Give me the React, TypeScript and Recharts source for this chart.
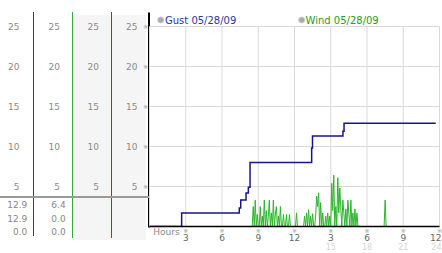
import { LineChart, Line, XAxis, YAxis, CartesianGrid } from 'recharts'

// gust: step series (hour of day -> mph)
const gustHours = [0, 2.66, 7.43, 7.55, 7.99, 8.18, 8.32, 13.42, 13.49, 16.01, 16.1, 23.69]
const gustSpeed = [0, 1.7, 2.3, 3.3, 4.2, 4.9, 8.0, 9.8, 11.3, 11.9, 12.9, 12.9]

// wind: 5 minute samples starting 08:20
const windStartHour = 8 + 20 / 60
const windEndHour = 23.69
const windSpeed = [
  0, 0, 0, 2.5, 0, 3.3, 0, 1.5, 0, 0,
  2.5, 0, 1.3, 0, 3.3, 0, 2.0, 0, 1.3, 3.3,
  0, 1.7, 0, 3.3, 0, 1.5, 2.5, 0, 1.3, 0,
  2.5, 0, 0, 1.5, 0, 0, 1.5, 0, 0, 1.5,
  0, 0, 0, 0, 0, 0, 1.7, 0, 0, 0,
  0, 0, 0, 0, 1.3, 0, 1.7, 0, 2.1, 0,
  1.3, 0, 1.6, 0, 0, 1.3, 3.8, 2.5, 4.2, 0,
  3.0, 0, 1.7, 0, 0, 1.3, 0, 1.7, 0, 1.3,
  0, 5.4, 2.0, 6.4, 0, 2.5, 0, 6.1, 1.7, 4.8,
  2.2, 0, 3.3, 1.7, 0, 2.2, 0, 3.3, 1.5, 0,
  3.3, 0, 1.7, 0, 2.2, 0, 1.7, 0, 0, 0,
  0, 0, 0, 0, 0, 0, 0, 0, 0, 0,
  0, 0, 0, 0, 0, 0, 0, 0, 0, 0,
  0, 0, 0, 0, 3.3, 0, 0, 0,
]

const yTicks = [0, 5, 10, 15, 20, 25]
const xTicks = [3, 6, 9, 12, 15, 18, 21, 24]
const xTickLabels = ['3', '6', '9', '12', '3', '6', '9', '12']
const xSubLabels = ['', '', '', '', '15', '18', '21', '24']

const gustStats = ['12.9', '12.9', '0.0']
const windStats = ['6.4', '0.0', '0.0']

const gustData = gustHours.map((h, i) => ({ h, v: gustSpeed[i] }))
const windData = [
  { h: 0, v: 0 },
  ...windSpeed.map((v, i) => ({ h: windStartHour + i / 12, v })),
  { h: windEndHour, v: 0 },
]

const FONT = '"DejaVu Sans", Verdana, sans-serif'
const labelCols = [19.5, 60, 99, 137.5]

const YTick = (p: any) => {
  const v = p.payload.value
  if (v === 0) return <g />
  return (
    <g>
      {labelCols.map(x => (
        <text key={x} x={x} y={p.y + 3.3} textAnchor="end" fontSize={9} fill="#8a8a8a" fontFamily={FONT}>
          {v}
        </text>
      ))}
      <text x={145.7} y={p.y + 2} textAnchor="middle" fontSize={6} fill="#999" fontFamily={FONT}>※</text>
    </g>
  )
}

const XTick = (p: any) => {
  const i = xTicks.indexOf(p.payload.value)
  // last label sits against the right edge of the picture
  const atEdge = p.x > 436
  const tx = atEdge ? 441.5 : p.x
  const anchor = atEdge ? 'end' : 'middle'
  return (
    <g>
      <text x={p.x} y={p.y + 6.5} textAnchor="middle" fontSize={6} fill="#999" fontFamily={FONT}>※</text>
      <text x={tx} y={p.y + 14.6} textAnchor={anchor} fontSize={9} fill="#666" fontFamily={FONT}>
        {xTickLabels[i]}
      </text>
      {xSubLabels[i] && (
        <text x={tx} y={p.y + 23.8} textAnchor={anchor} fontSize={8} fill="#d4d4d4" fontFamily={FONT}>
          {xSubLabels[i]}
        </text>
      )}
    </g>
  )
}

function Panel() {
  return (
    <svg width={442} height={253} style={{ position: 'absolute', left: 0, top: 0 }}>
      <rect x={73} y={15} width={38} height={225} fill="#f5f5f5" />
      <rect x={112} y={15} width={34} height={225} fill="#f5f5f5" />
      <rect x={33} y={12} width={1} height={224} fill="#1a3cc0" />
      <rect x={72} y={12} width={1} height={226} fill="#30b030" />
      <rect x={111} y={12} width={1} height={226} fill="#c82020" />
      <rect x={148} y={12.5} width={2} height={215} fill="#000" />
      <rect x={0} y={196} width={149} height={2} fill="#999" />
      {gustStats.map((s, i) => (
        <text key={'g' + i} x={27.3} y={208.3 + i * 13.2} textAnchor="end" fontSize={9} fill="#888" fontFamily={FONT}>{s}</text>
      ))}
      {windStats.map((s, i) => (
        <text key={'w' + i} x={65.7} y={208.3 + i * 13.2} textAnchor="end" fontSize={9} fill="#888" fontFamily={FONT}>{s}</text>
      ))}
      <text x={153.3} y={235} fontSize={9} fill="#888" fontFamily={FONT}>Hours</text>
      <circle cx={160.7} cy={20} r={3} fill="#aaa" stroke="#ccc" />
      <text x={165} y={23.6} fontSize={10} fill="#2a3aa0" fontFamily={FONT}>Gust 05/28/09</text>
      <circle cx={301.7} cy={20} r={3} fill="#aaa" stroke="#ccc" />
      <text x={305.5} y={23.6} fontSize={10} fill="#22a022" fontFamily={FONT}>Wind 05/28/09</text>
    </svg>
  )
}

export default function App() {
  return (
    <div style={{ position: 'absolute', left: 0, top: 0, width: 442, height: 253, background: '#fff' }}>
      <Panel />
      <div style={{ position: 'absolute', left: 0, top: 0 }}>
        <LineChart width={442} height={253} margin={{ top: 26.5, right: 2.5, bottom: 0, left: 0 }}>
          <CartesianGrid stroke="#d9d9d9" />
          <XAxis
            dataKey="h"
            type="number"
            domain={[0, 24]}
            ticks={xTicks}
            interval={0}
            height={26.5}
            tickSize={0}
            tickMargin={0}
            tickLine={false}
            axisLine={{ stroke: '#000', strokeWidth: 1.5 }}
            tick={XTick}
            allowDataOverflow
          />
          <YAxis
            dataKey="v"
            type="number"
            domain={[0, 25]}
            ticks={yTicks}
            interval={0}
            width={149.5}
            tickSize={0}
            tickMargin={0}
            tickLine={false}
            axisLine={false}
            tick={YTick}
            allowDataOverflow
          />
          <Line data={windData} dataKey="v" type="linear" stroke="#2db52d" strokeWidth={1} dot={false} isAnimationActive={false} />
          <Line data={gustData} dataKey="v" type="stepAfter" stroke="#16168a" strokeWidth={1.5} dot={false} isAnimationActive={false} />
        </LineChart>
      </div>
    </div>
  )
}
